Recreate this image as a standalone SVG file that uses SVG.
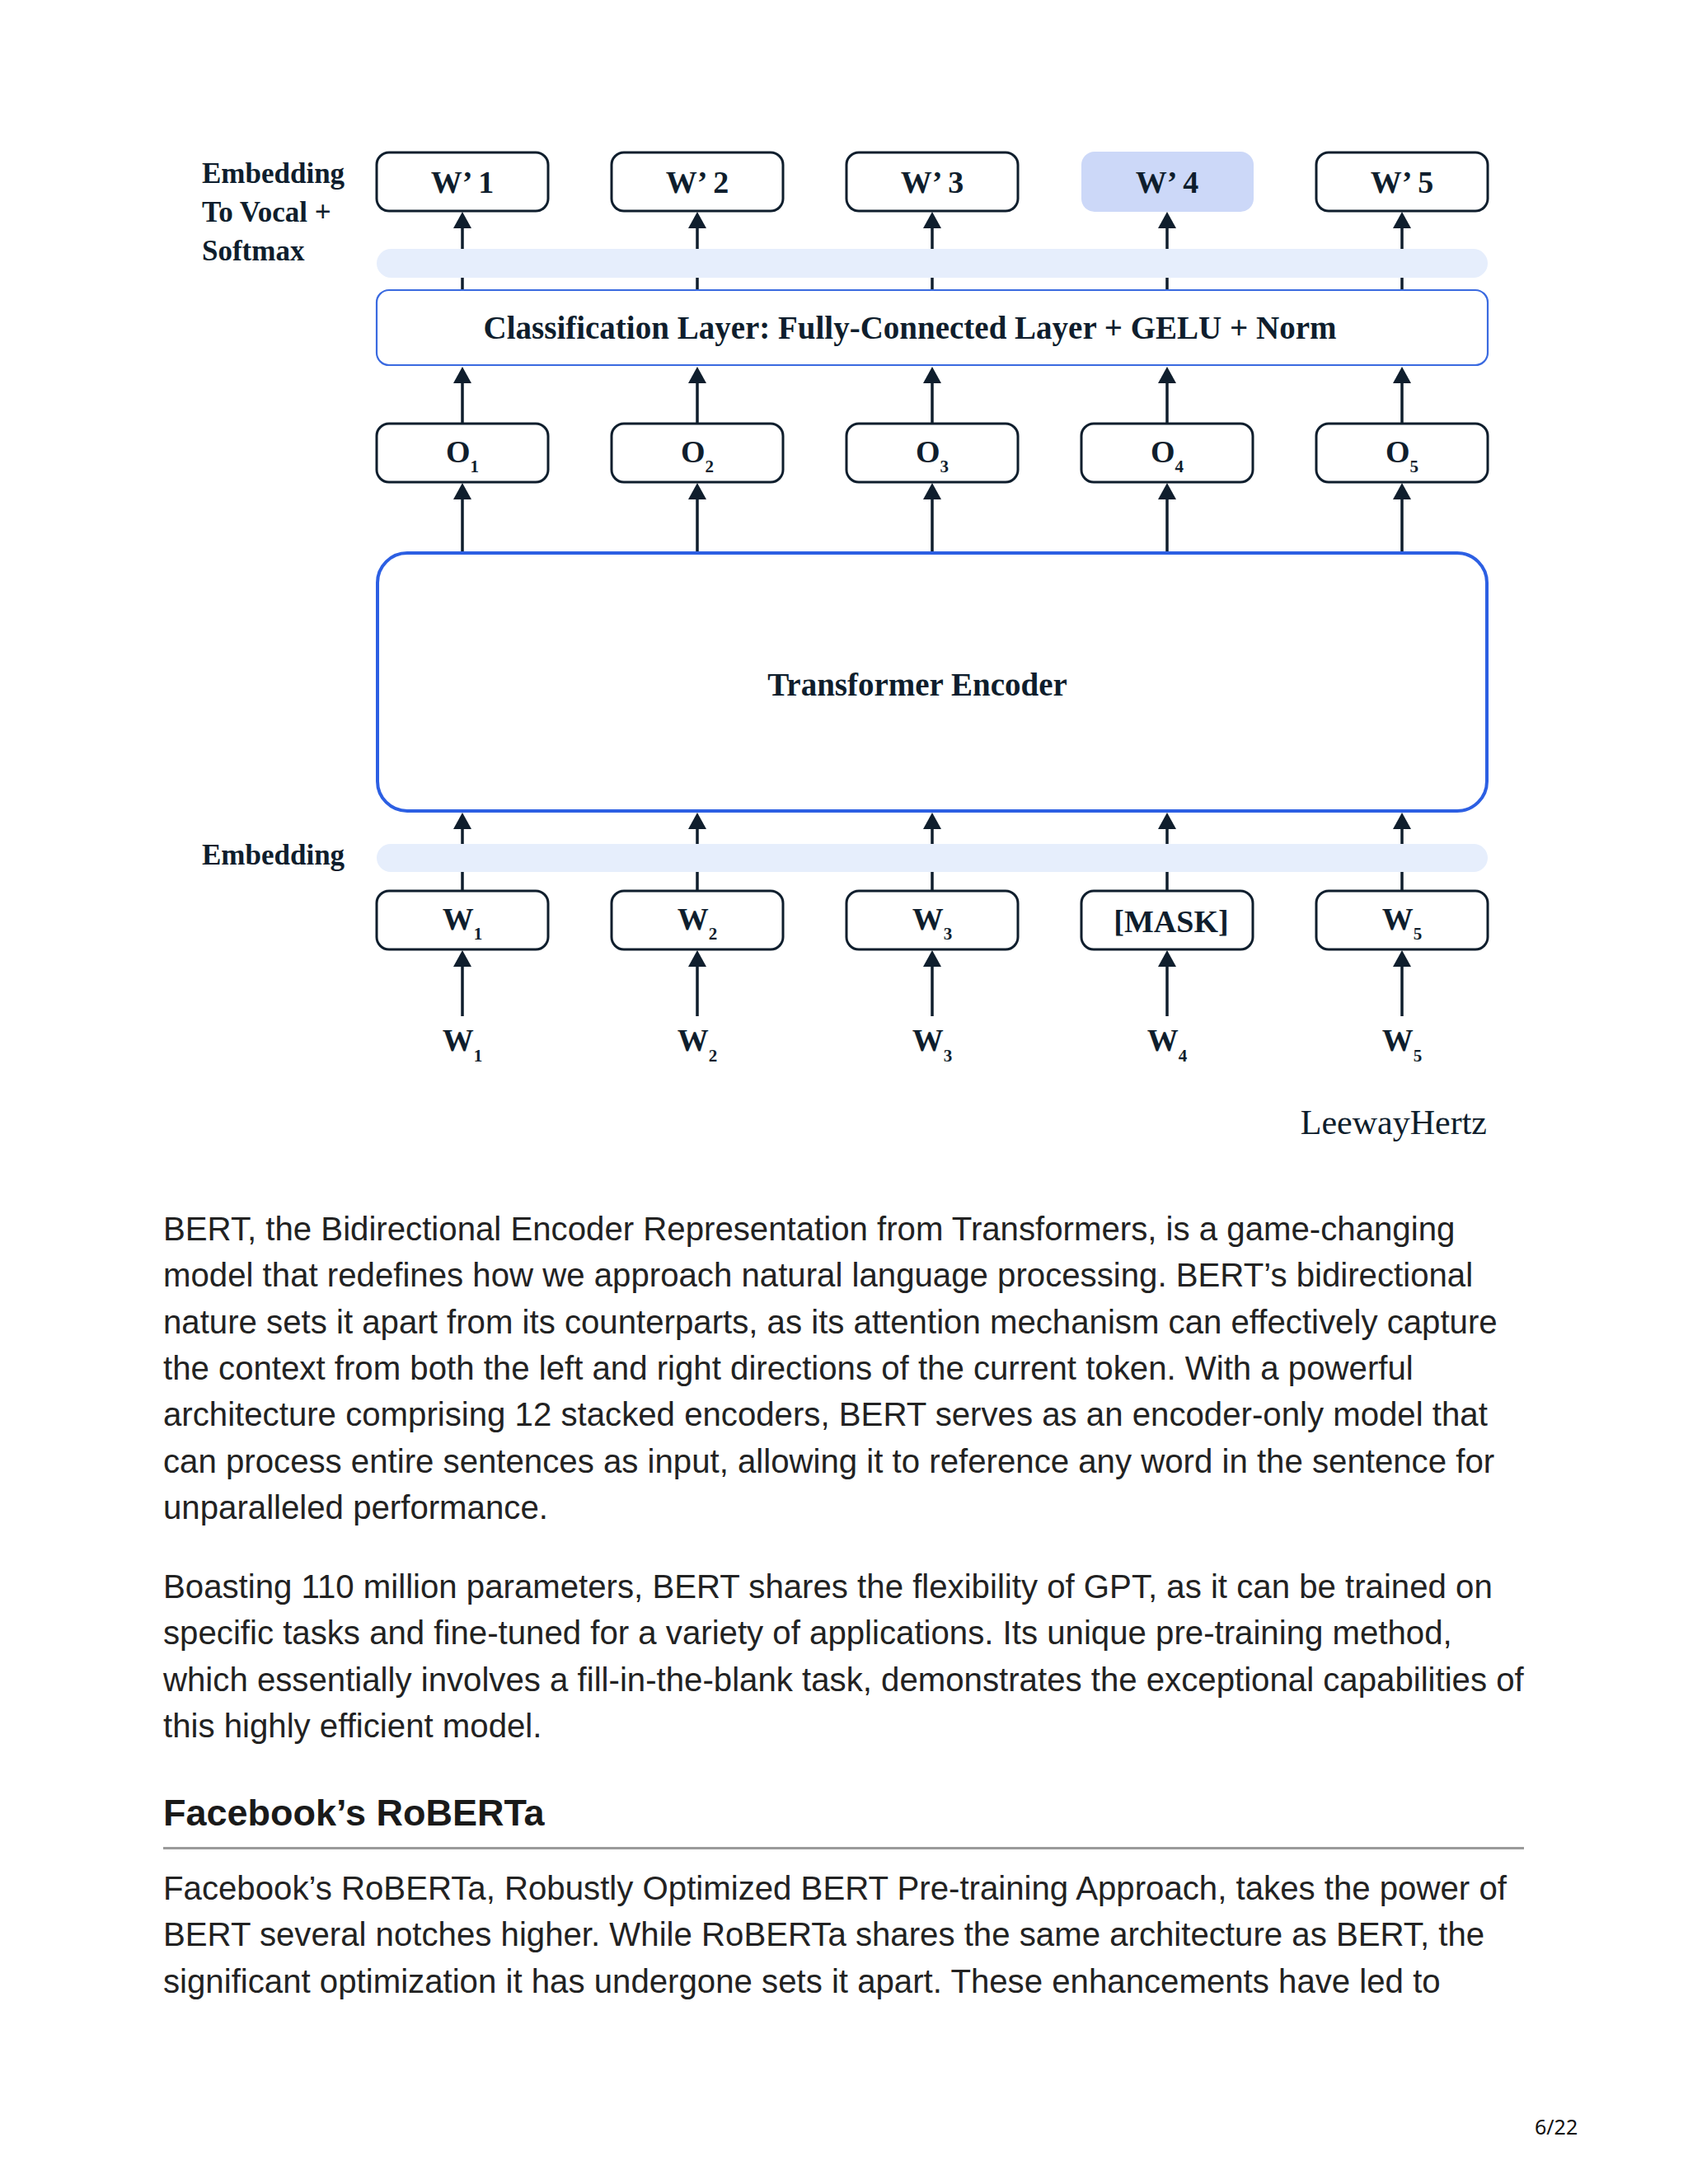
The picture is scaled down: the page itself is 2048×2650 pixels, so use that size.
<svg xmlns="http://www.w3.org/2000/svg" width="2048" height="2650" viewBox="0 0 2048 2650">
<defs>
<style>
.box{fill:#ffffff;stroke:#0f1e2d;stroke-width:3}
.hl{fill:#ccd8f8;stroke:none}
.band{fill:#e6eefc}
.lbl{font-family:"Liberation Serif","Times New Roman",serif;font-weight:bold;fill:#0f1e2d}
.bt{font-size:38px;text-anchor:middle}
.side{font-size:35px}
.big{font-size:39px;text-anchor:middle}
.sub{font-size:21px}
.conn{stroke:#0f1e2d;stroke-width:3.5;fill:none;marker-end:url(#ah)}
.body{font-family:"Liberation Sans",Arial,sans-serif;font-size:40.2px;fill:#222222}
.head{font-family:"Liberation Sans",Arial,sans-serif;font-size:45px;font-weight:bold;fill:#1a1a1a}
</style>
<marker id="ah" viewBox="0 0 20 22" refX="12" refY="11" markerWidth="20" markerHeight="22" markerUnits="userSpaceOnUse" orient="auto">
<path d="M0,0 L20,11 L0,22 z" fill="#0f1e2d"/>
</marker>
</defs>
<rect width="2048" height="2650" fill="#ffffff"/>

<g id="connectors">
<line class="conn" x1="561" y1="1233" x2="561" y2="1161"/>
<line class="conn" x1="846" y1="1233" x2="846" y2="1161"/>
<line class="conn" x1="1131" y1="1233" x2="1131" y2="1161"/>
<line class="conn" x1="1416" y1="1233" x2="1416" y2="1161"/>
<line class="conn" x1="1701" y1="1233" x2="1701" y2="1161"/>
<line class="conn" x1="561" y1="1081" x2="561" y2="994"/>
<line class="conn" x1="846" y1="1081" x2="846" y2="994"/>
<line class="conn" x1="1131" y1="1081" x2="1131" y2="994"/>
<line class="conn" x1="1416" y1="1081" x2="1416" y2="994"/>
<line class="conn" x1="1701" y1="1081" x2="1701" y2="994"/>
<line class="conn" x1="561" y1="670" x2="561" y2="594"/>
<line class="conn" x1="846" y1="670" x2="846" y2="594"/>
<line class="conn" x1="1131" y1="670" x2="1131" y2="594"/>
<line class="conn" x1="1416" y1="670" x2="1416" y2="594"/>
<line class="conn" x1="1701" y1="670" x2="1701" y2="594"/>
<line class="conn" x1="561" y1="514" x2="561" y2="453"/>
<line class="conn" x1="846" y1="514" x2="846" y2="453"/>
<line class="conn" x1="1131" y1="514" x2="1131" y2="453"/>
<line class="conn" x1="1416" y1="514" x2="1416" y2="453"/>
<line class="conn" x1="1701" y1="514" x2="1701" y2="453"/>
<line class="conn" x1="561" y1="352" x2="561" y2="265"/>
<line class="conn" x1="846" y1="352" x2="846" y2="265"/>
<line class="conn" x1="1131" y1="352" x2="1131" y2="265"/>
<line class="conn" x1="1416" y1="352" x2="1416" y2="265"/>
<line class="conn" x1="1701" y1="352" x2="1701" y2="265"/>
</g>

<g id="band-top"><rect class="band" x="457" y="302" width="1348" height="35" rx="17.5"/></g>
<g id="band-bottom"><rect class="band" x="457" y="1024" width="1348" height="34" rx="17"/></g>

<g id="label-softmax" class="lbl side">
<text x="245" y="222">Embedding</text>
<text x="245" y="269">To Vocal +</text>
<text x="245" y="316">Softmax</text>
</g>
<g id="label-embedding" class="lbl side"><text x="245" y="1049">Embedding</text></g>

<g id="wp1"><rect class="box" x="457" y="185" width="208" height="71" rx="15"/><text class="lbl bt" x="561" y="234">W’ 1</text></g>
<g id="wp2"><rect class="box" x="742" y="185" width="208" height="71" rx="15"/><text class="lbl bt" x="846" y="234">W’ 2</text></g>
<g id="wp3"><rect class="box" x="1027" y="185" width="208" height="71" rx="15"/><text class="lbl bt" x="1131" y="234">W’ 3</text></g>
<g id="wp4"><rect class="hl" x="1312" y="184" width="209" height="73" rx="16"/><text class="lbl bt" x="1416" y="234">W’ 4</text></g>
<g id="wp5"><rect class="box" x="1597" y="185" width="208" height="71" rx="15"/><text class="lbl bt" x="1701" y="234">W’ 5</text></g>

<g id="classification"><rect x="457" y="352" width="1348" height="91" rx="15" fill="#ffffff" stroke="#3a6ae0" stroke-width="2.2"/><text class="lbl big" x="1104" y="411">Classification Layer: Fully-Connected Layer + GELU + Norm</text></g>

<g id="o1"><rect class="box" x="457" y="514" width="208" height="71" rx="15"/><text class="lbl bt" x="561" y="561">O<tspan class="sub" dy="12">1</tspan></text></g>
<g id="o2"><rect class="box" x="742" y="514" width="208" height="71" rx="15"/><text class="lbl bt" x="846" y="561">O<tspan class="sub" dy="12">2</tspan></text></g>
<g id="o3"><rect class="box" x="1027" y="514" width="208" height="71" rx="15"/><text class="lbl bt" x="1131" y="561">O<tspan class="sub" dy="12">3</tspan></text></g>
<g id="o4"><rect class="box" x="1312" y="514" width="208" height="71" rx="15"/><text class="lbl bt" x="1416" y="561">O<tspan class="sub" dy="12">4</tspan></text></g>
<g id="o5"><rect class="box" x="1597" y="514" width="208" height="71" rx="15"/><text class="lbl bt" x="1701" y="561">O<tspan class="sub" dy="12">5</tspan></text></g>

<g id="encoder"><rect x="458" y="671" width="1346" height="313" rx="36" fill="#ffffff" stroke="#2c5fe3" stroke-width="4"/><text class="lbl big" x="1113" y="844">Transformer Encoder</text></g>

<g id="w1"><rect class="box" x="457" y="1081" width="208" height="71" rx="15"/><text class="lbl bt" x="561" y="1128">W<tspan class="sub" dy="12">1</tspan></text></g>
<g id="w2"><rect class="box" x="742" y="1081" width="208" height="71" rx="15"/><text class="lbl bt" x="846" y="1128">W<tspan class="sub" dy="12">2</tspan></text></g>
<g id="w3"><rect class="box" x="1027" y="1081" width="208" height="71" rx="15"/><text class="lbl bt" x="1131" y="1128">W<tspan class="sub" dy="12">3</tspan></text></g>
<g id="mask"><rect class="box" x="1312" y="1081" width="208" height="71" rx="15"/><text class="lbl bt" x="1421" y="1131">[MASK]</text></g>
<g id="w5"><rect class="box" x="1597" y="1081" width="208" height="71" rx="15"/><text class="lbl bt" x="1701" y="1128">W<tspan class="sub" dy="12">5</tspan></text></g>

<g id="in1"><text class="lbl bt" x="561" y="1275">W<tspan class="sub" dy="13">1</tspan></text></g>
<g id="in2"><text class="lbl bt" x="846" y="1275">W<tspan class="sub" dy="13">2</tspan></text></g>
<g id="in3"><text class="lbl bt" x="1131" y="1275">W<tspan class="sub" dy="13">3</tspan></text></g>
<g id="in4"><text class="lbl bt" x="1416" y="1275">W<tspan class="sub" dy="13">4</tspan></text></g>
<g id="in5"><text class="lbl bt" x="1701" y="1275">W<tspan class="sub" dy="13">5</tspan></text></g>

<text x="1804" y="1376" font-family="'Liberation Serif','Times New Roman',serif" font-size="42" fill="#0f1e2d" text-anchor="end">LeewayHertz</text>

<g id="paragraph1" class="body">
<text x="198" y="1505">BERT, the Bidirectional Encoder Representation from Transformers, is a game-changing</text>
<text x="198" y="1561">model that redefines how we approach natural language processing. BERT’s bidirectional</text>
<text x="198" y="1618">nature sets it apart from its counterparts, as its attention mechanism can effectively capture</text>
<text x="198" y="1674">the context from both the left and right directions of the current token. With a powerful</text>
<text x="198" y="1730">architecture comprising 12 stacked encoders, BERT serves as an encoder-only model that</text>
<text x="198" y="1787">can process entire sentences as input, allowing it to reference any word in the sentence for</text>
<text x="198" y="1843">unparalleled performance.</text>
</g>
<g id="paragraph2" class="body">
<text x="198" y="1939">Boasting 110 million parameters, BERT shares the flexibility of GPT, as it can be trained on</text>
<text x="198" y="1995">specific tasks and fine-tuned for a variety of applications. Its unique pre-training method,</text>
<text x="198" y="2052">which essentially involves a fill-in-the-blank task, demonstrates the exceptional capabilities of</text>
<text x="198" y="2108">this highly efficient model.</text>
</g>
<g id="heading">
<text class="head" x="198" y="2215">Facebook’s RoBERTa</text>
<rect x="198" y="2241" width="1651" height="3" fill="#9a9a9a"/>
</g>
<g id="paragraph3" class="body">
<text x="198" y="2305">Facebook’s RoBERTa, Robustly Optimized BERT Pre-training Approach, takes the power of</text>
<text x="198" y="2361">BERT several notches higher. While RoBERTa shares the same architecture as BERT, the</text>
<text x="198" y="2418">significant optimization it has undergone sets it apart. These enhancements have led to</text>
</g>
<text x="1862" y="2590" font-family="'Noto Sans','Open Sans',sans-serif" font-size="25" fill="#111111">6/22</text>
</svg>
